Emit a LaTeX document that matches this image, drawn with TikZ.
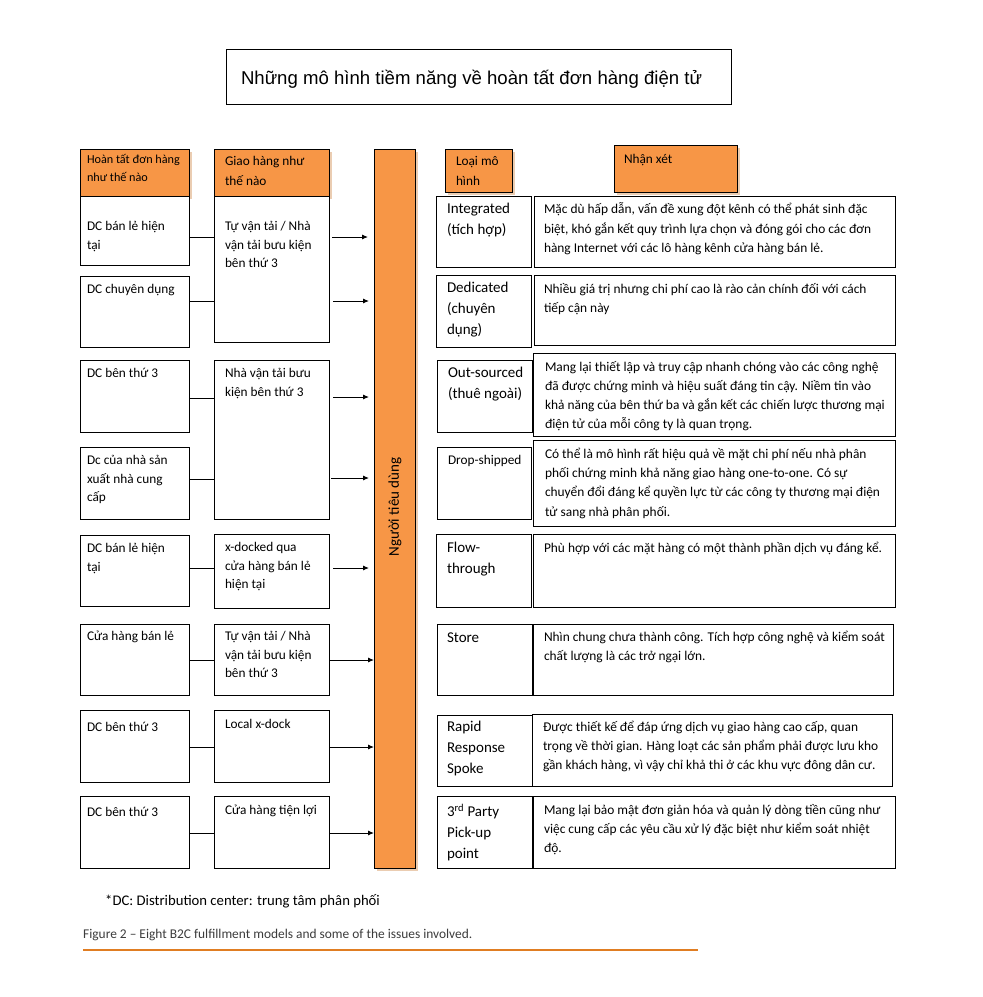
\documentclass[tikz,border=0pt]{standalone}
\usepackage{fontspec}
\setmainfont{Carlito}
\newfontfamily\arialf{Liberation Sans}
\usetikzlibrary{arrows.meta,calc,shadows}
\definecolor{orng}{HTML}{F79646}
\definecolor{shd}{HTML}{EBCDB2}
\definecolor{capline}{HTML}{E07D22}
\definecolor{capgray}{HTML}{3C3C3C}
\tikzset{
  bx/.style={draw, line width=0.9pt, fill=white, inner sep=0pt, outer sep=0pt, anchor=north west},
  hd/.style={bx, fill=orng, drop shadow={shadow xshift=2.5pt, shadow yshift=-2.5pt, fill=shd, opacity=1}},
  txt/.style={inner sep=0pt, outer sep=0pt, anchor=north west, align=left, execute at begin node={\rule{0pt}{11pt}}},
  hdrf/.style={txt, font=\fontsize{12.2}{18}\selectfont},
  hdrg/.style={txt, font=\fontsize{13.3}{20}\selectfont},
  leftf/.style={txt, font=\fontsize{13.3}{18.8}\selectfont},
  typef/.style={txt, font=\fontsize{15}{21}\selectfont},
  comf/.style={txt, font=\fontsize{13.4}{19.3}\selectfont},
  conn/.style={line width=0.9pt},
  arr/.style={line width=0.9pt, -{Latex[length=6pt,width=5pt]}}
}
\newcommand\mkbox[6]{\node[#6, minimum width={#4pt-#2pt}, minimum height={#5pt-#3pt}] (#1) at (#2,#3) {};}
\newcommand\tx[5]{\node[#2] (#1) at (#3,{#4-7}) {#5};}
\begin{document}
\begin{tikzpicture}[x=1pt,y=-1pt]
\useasboundingbox (0,0) rectangle (983,997);
\fill[white] (0,0) rectangle (983,997);

% title
\mkbox{title}{226}{49}{731}{104}{bx}
\node[txt, font=\arialf\fontsize{18.6}{22}\selectfont] (titletext) at (241,70) {Những mô hình tiềm năng về hoàn tất đơn hàng điện tử};

% headers
\mkbox{h1}{80}{149}{189}{196}{hd}
\tx{h1t}{hdrf}{87}{161}{Hoàn tất đơn hàng\\như thế nào}
\mkbox{h2}{214}{149}{329}{196}{hd}
\tx{h2t}{hdrg}{225}{163}{Giao hàng như\\thế nào}
\mkbox{h3}{445}{149}{512}{192}{hd}
\tx{h3t}{hdrg}{456}{163}{Loại mô\\hình}
\mkbox{h4}{614}{145}{737}{192}{hd}
\tx{h4t}{hdrg}{624}{159}{Nhận xét}

% consumer bar
\mkbox{bar}{374}{149}{415}{868}{hd}
\node[rotate=90, inner sep=0pt, font=\fontsize{15}{17}\selectfont] (bart) at (395,507) {Người tiêu dùng};

% left column
\mkbox{L1}{80}{196}{189}{265}{bx}
\tx{L1t}{leftf}{87}{228}{DC bán lẻ hiện\\tại}
\mkbox{L2}{80}{276}{189}{347}{bx}
\tx{L2t}{leftf}{87}{289}{DC chuyên dụng}
\mkbox{L3}{80}{360}{189}{432}{bx}
\tx{L3t}{leftf}{87}{373}{DC bên thứ 3}
\mkbox{L4}{80}{447}{189}{519}{bx}
\tx{L4t}{leftf}{87}{462}{Dc của nhà sản\\xuất nhà cung\\cấp}
\mkbox{L5}{80}{535}{189}{606}{bx}
\tx{L5t}{leftf}{87}{550}{DC bán lẻ hiện\\tại}
\mkbox{L6}{80}{624}{189}{695}{bx}
\tx{L6t}{leftf}{87}{636}{Cửa hàng bán lẻ}
\mkbox{L7}{80}{710}{189}{782}{bx}
\tx{L7t}{leftf}{87}{727}{DC bên thứ 3}
\mkbox{L8}{80}{796}{189}{868}{bx}
\tx{L8t}{leftf}{87}{812}{DC bên thứ 3}

% middle column
\mkbox{M1}{214}{196}{329}{342}{bx}
\tx{M1t}{leftf}{225}{228}{Tự vận tải / Nhà\\vận tải bưu kiện\\bên thứ 3}
\mkbox{M2}{214}{360}{329}{519}{bx}
\tx{M2t}{leftf}{225}{375}{Nhà vận tải bưu\\kiện bên thứ 3}
\mkbox{M3}{214}{534}{329}{608}{bx}
\tx{M3t}{leftf}{225}{549}{x-docked qua\\cửa hàng bán lẻ\\hiện tại}
\mkbox{M4}{214}{624}{329}{695}{bx}
\tx{M4t}{leftf}{225}{638}{Tự vận tải / Nhà\\vận tải bưu kiện\\bên thứ 3}
\mkbox{M5}{214}{710}{329}{782}{bx}
\tx{M5t}{leftf}{225}{724}{Local x-dock}
\mkbox{M6}{214}{796}{329}{868}{bx}
\tx{M6t}{leftf}{225}{810}{Cửa hàng tiện lợi}

% type column
\mkbox{T1}{436}{196}{531}{267}{bx}
\tx{T1t}{typef}{447}{210}{Integrated\\(tích hợp)}
\mkbox{T2}{436}{275}{531}{347}{bx}
\tx{T2t}{typef}{447}{289}{Dedicated\\(chuyên\\dụng)}
\mkbox{T3}{437}{360}{532}{432}{bx}
\tx{T3t}{typef}{448}{374}{Out-sourced\\(thuê ngoài)}
\mkbox{T4}{437}{447}{531}{519}{bx}
\tx{T4t}{hdrg}{448}{460}{Drop-shipped}
\mkbox{T5}{436}{534}{531}{607}{bx}
\tx{T5t}{typef}{447}{549}{Flow-\\through}
\mkbox{T6}{437}{624}{532}{695}{bx}
\tx{T6t}{typef}{447}{638}{Store}
\mkbox{T7}{437}{715}{532}{786}{bx}
\tx{T7t}{typef}{447}{728}{Rapid\\Response\\Spoke}
\mkbox{T8}{437}{796}{532}{868}{bx}
\tx{T8t}{typef}{447}{811}{3\textsuperscript{rd} Party\\Pick-up\\point}

% comment column
\mkbox{C1}{534}{196}{895}{267}{bx}
\tx{C1t}{comf}{544}{210}{Mặc dù hấp dẫn, vấn đề xung đột kênh có thể phát sinh đặc\\biệt, khó gắn kết quy trình lựa chọn và đóng gói cho các đơn\\hàng Internet với các lô hàng kênh cửa hàng bán lẻ.}
\mkbox{C2}{534}{275}{895}{345}{bx}
\tx{C2t}{comf}{544}{290}{Nhiều giá trị nhưng chi phí cao là rào cản chính đối với cách\\tiếp cận này}
\mkbox{C3}{533}{353}{895}{436}{bx}
\tx{C3t}{comf}{545}{368}{Mang lại thiết lập và truy cập nhanh chóng vào các công nghệ\\đã được chứng minh và hiệu suất đáng tin cậy. Niềm tin vào\\khả năng của bên thứ ba và gắn kết các chiến lược thương mại\\điện tử của mỗi công ty là quan trọng.}
\mkbox{C4}{533}{440}{895}{526}{bx}
\tx{C4t}{comf}{545}{455}{Có thể là mô hình rất hiệu quả về mặt chi phí nếu nhà phân\\phối chứng minh khả năng giao hàng one-to-one. Có sự\\chuyển đổi đáng kể quyền lực từ các công ty thương mại điện\\tử sang nhà phân phối.}
\mkbox{C5}{533}{534}{895}{607}{bx}
\tx{C5t}{comf}{544}{548}{Phù hợp với các mặt hàng có một thành phần dịch vụ đáng kể.}
\mkbox{C6}{533}{624}{893}{695}{bx}
\tx{C6t}{comf}{544}{638}{Nhìn chung chưa thành công. Tích hợp công nghệ và kiểm soát\\chất lượng là các trở ngại lớn.}
\mkbox{C7}{532}{714}{892}{786}{bx}
\tx{C7t}{comf}{543}{728}{Được thiết kế để đáp ứng dịch vụ giao hàng cao cấp, quan\\trọng về thời gian. Hàng loạt các sản phẩm phải được lưu kho\\gần khách hàng, vì vậy chỉ khả thi ở các khu vực đông dân cư.}
\mkbox{C8}{533}{796}{895}{868}{bx}
\tx{C8t}{comf}{544}{811}{Mang lại bảo mật đơn giản hóa và quản lý dòng tiền cũng như\\việc cung cấp các yêu cầu xử lý đặc biệt như kiểm soát nhiệt\\độ.}

% connectors left -> middle
\draw[conn] (L1.east |- 0,237) -- (M1.west |- 0,237);
\draw[conn] (L2.east |- 0,301) -- (M1.west |- 0,301);
\draw[conn] (L3.east |- 0,398) -- (M2.west |- 0,398);
\draw[conn] (L4.east |- 0,479) -- (M2.west |- 0,479);
\draw[conn] (L5.east |- 0,568) -- (M3.west |- 0,568);
\draw[conn] (L6.east |- 0,660) -- (M4.west |- 0,660);
\draw[conn] (L7.east |- 0,747) -- (M5.west |- 0,747);
\draw[conn] (L8.east |- 0,833) -- (M6.west |- 0,833);

% arrows middle -> consumer bar
\draw[arr] ($(M1.east |- 0,237)+(3,0)$) -- ($(bar.west |- 0,237)+(-6,0)$);
\draw[arr] ($(M1.east |- 0,301)+(4,0)$) -- ($(bar.west |- 0,301)+(-5,0)$);
\draw[arr] ($(M2.east |- 0,397)+(4,0)$) -- ($(bar.west |- 0,397)+(-5,0)$);
\draw[arr] ($(M2.east |- 0,478)+(2,0)$) -- ($(bar.west |- 0,478)+(-5,0)$);
\draw[arr] ($(M3.east |- 0,568)+(4,0)$) -- ($(bar.west |- 0,568)+(-5,0)$);
\draw[arr] (M4.east |- 0,660) -- (bar.west |- 0,660);
\draw[arr] (M5.east |- 0,747) -- (bar.west |- 0,747);
\draw[arr] (M6.east |- 0,833) -- (bar.west |- 0,833);

% footnote and caption
\node[inner sep=0pt, anchor=base west, font=\fontsize{14.7}{16}\selectfont] (foot) at (105,905) {*DC: Distribution center: trung tâm phân phối};
\node[inner sep=0pt, anchor=base west, text=capgray, font=\fontsize{13.4}{15}\selectfont] (cap) at (83,938) {Figure 2 – Eight B2C fulfillment models and some of the issues involved.};
\coordinate (capl) at (83,950);
\coordinate (capr) at (698,950);
\draw[capline, line width=2pt] (capl) -- (capr);
\end{tikzpicture}
\end{document}
